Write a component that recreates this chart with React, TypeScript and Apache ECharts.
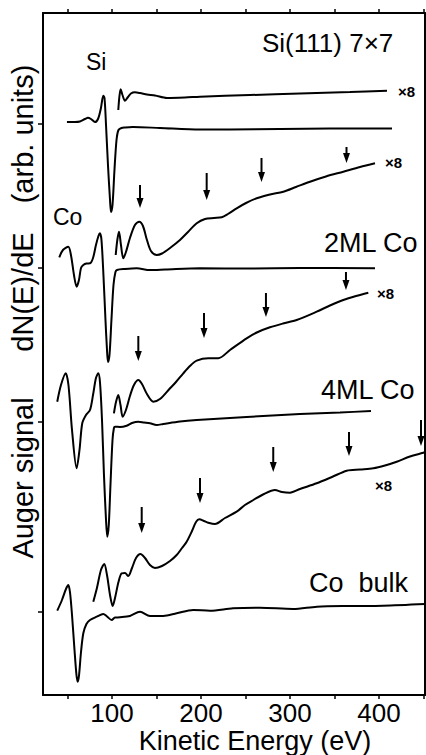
import React, { useEffect, useRef } from "react";
import * as echarts from "echarts";

// ---- axis ticks / labels ----
const X_MIN = 22.5;
const X_MAX = 451.7;
const X_TICKS = [50, 100, 150, 200, 250, 300, 350, 400, 450];
const X_LABELS = [100, 200, 300, 400];
const Y_MIN = 0;
const Y_MAX = 682;

// baseline (zero) of each spectrum, arb. units
const BASE_SI = 571;
const BASE_CO2 = 427;
const BASE_CO4 = 273;
const BASE_BULK = 83;
const Y_TICKS = [BASE_BULK, BASE_CO4, BASE_CO2, BASE_SI];

// ---- spectra: [kinetic energy (eV), dN/dE relative to baseline] ----
const siMain = [[49.4,2],[58.4,2],[64.0,2.5],[69.7,5],[73.0,6.3],[76.4,5],[80.9,2],[84.3,5],[87.6,16],[90.2,28.3],[91.6,26],[93.3,-1],[95.5,-41],[97.8,-76],[98.9,-88],[100.6,-81],[102.8,-46],[105.1,-16],[107.3,-6],[110.7,-4],[114.6,-3.5],[123.6,-3],[153.9,-4],[198.9,-5.5],[232.6,-5.5],[288.8,-5],[344.9,-4.5],[414.6,-4.5]];
const siX8 = [[107.1,14],[108.4,28],[109.8,34.7],[111.8,29],[114.6,23.3],[118.0,27],[121.3,30.5],[125.8,31.7],[131.5,31],[139.3,29.5],[148.3,28.5],[161.8,26],[182.0,26.5],[198.9,27.3],[255.1,29],[311.2,30.5],[367.4,32],[409.0,33.3]];

const co2Main = [[40.8,10.7],[44.9,18],[50.9,21.3],[53.9,13],[57.3,-7],[60.3,-18.7],[62.9,-12],[65.2,0],[67.8,3],[71.3,4.5],[75.3,4.7],[78.7,10],[82.0,23],[84.8,32],[86.5,34.7],[88.2,28],[90.4,-7],[92.7,-52],[94.4,-82],[95.5,-94],[97.2,-87],[99.4,-52],[101.7,-17],[103.9,-4],[105.6,-2],[114.6,-1],[127.8,-0.3],[142.7,-2],[159.6,-1.5],[198.9,-0.3],[255.1,-0.5],[311.2,0],[395.5,-0.3]];
const co2X8 = [[104.2,13],[106.0,28],[107.9,36.3],[110.1,23],[112.7,9.7],[115.7,16],[120.2,30],[125.8,43],[130.7,46.3],[134.8,42],[139.3,28],[143.8,17],[150.2,13],[156.2,14.5],[165.2,20],[176.4,28],[185.4,36],[195.2,44.7],[204.5,49],[214.6,50],[223.3,50.7],[230.3,54],[240.1,59.7],[250.6,65],[262.6,69.7],[277.5,73.5],[292.5,76.3],[306.7,81],[322.5,86.3],[340.4,91.5],[359.9,96.3],[378.7,101],[395.5,104.7]];

const co4Main = [[38.5,20.3],[42.7,37],[48.0,48.7],[51.1,37],[55.1,-8],[60.3,-46.3],[63.5,-28],[66.6,-1.3],[70.8,7],[75.3,12],[78.7,27],[82.0,44],[84.6,48.7],[86.5,40],[88.8,2],[91.0,-53],[93.3,-98],[94.7,-114.7],[96.4,-103],[98.3,-63],[100.6,-18],[102.2,-6],[103.4,-4.7],[109.0,-5],[116.5,-3.7],[122.5,-1],[129.6,0.3],[136.0,-0.5],[142.7,-1.3],[150.2,-3],[157.6,-2],[176.4,0.5],[195.2,2],[232.6,4],[269.7,6],[311.2,8],[356.2,9.5],[391.0,11]];
const co4X8 = [[102.2,8.7],[104.5,20],[107.1,27],[109.6,17],[112.0,5.3],[115.7,12],[120.2,26],[124.7,37],[129.6,42],[133.7,38],[139.3,28],[146.4,20.3],[153.9,23],[165.2,33.7],[171.9,40],[180.1,48.7],[187.6,56],[195.2,61.3],[208.2,63.7],[219.4,63.7],[232.6,72],[251.3,83.7],[264.0,90],[277.5,94.7],[292.1,98.5],[307.5,102],[330.0,110.3],[344.9,116.5],[359.9,122],[374.2,126],[388.0,129.3]];

const bulkMain = [[38.5,1.3],[43.8,12],[48.3,23],[50.9,27],[52.8,20],[55.1,-3],[57.9,-38],[60.1,-63],[61.5,-69.7],[62.9,-64],[65.2,-40],[67.8,-21.3],[71.3,-12],[75.3,-8],[82.8,-4.7],[90.2,-2],[94.4,-4.5],[99.7,-8],[103.4,-5.5],[109.0,-5.3],[120.2,-4],[131.5,0.3],[142.7,-4],[157.6,-4],[172.7,-1.3],[191.3,2],[210.1,1.3],[236.0,3.7],[266.3,4.3],[303.4,3],[330.3,5.3],[367.4,6],[404.5,6.3],[451.7,8]];
const bulkX8 = [[79.0,10.3],[83.1,24],[87.6,42],[91.3,48],[94.4,37],[97.8,17],[100.8,6],[103.4,14],[107.3,30],[110.9,38.7],[114.6,39],[118.3,36],[122.5,44],[127.0,54],[132.0,58],[137.1,54],[142.7,47],[148.3,44],[156.2,46],[165.2,51],[172.7,57],[178.7,64],[183.9,70.3],[189.9,81],[194.4,90],[198.1,92.7],[203.4,91],[208.2,89.3],[215.7,88],[227.0,94],[240.1,100.3],[249.4,107],[258.8,112],[270.8,118],[283.1,122],[291.0,120],[300.0,119.3],[311.2,123],[330.0,128.7],[347.2,135],[363.7,141.3],[378.7,142.5],[393.6,143.7],[406.7,146.5],[419.9,150.3],[434.8,155.5],[449.8,159.3],[451.7,160]];

// ---- arrows: [energy (eV), tail y, tip y] in absolute arb. units ----
const arrows2ML = [[131.5,510,487],[206.4,522,495],[268.0,537,513],[363.5,548,532]];
const arrows4ML = [[129.6,359,334],[203.4,382,357],[273.0,402,378],[362.9,423,405]];
const arrowsBulk = [[133.4,188,162],[198.9,217,192],[281.2,248,223],[366.3,263,239],[447.2,275,249]];

const FONT = '"Liberation Sans", Arial, sans-serif';

function shift(data: number[][], base: number) {
  return data.map(([e, v]) => [e, v + base]);
}

function lineSeries(name: string, data: number[][]) {
  return {
    name,
    type: "line",
    data,
    showSymbol: false,
    smooth: 0.3,
    clip: true,
    lineStyle: { color: "#000", width: 2 },
    xAxisIndex: 0,
    yAxisIndex: 0,
    silent: true,
  };
}

function text(t: string, x: number, y: number, size: number, extra: any = {}) {
  return {
    type: "text",
    x,
    y,
    ...extra,
    style: {
      text: t,
      font: `${extra.weight || "normal"} ${size}px ${FONT}`,
      fill: "#000",
      align: extra.align || "left",
      verticalAlign: "middle",
    },
  };
}

export default function App() {
  const ref = useRef<HTMLDivElement>(null);
  useEffect(() => {
    if (!ref.current) return;
    const chart = echarts.init(ref.current, null, { renderer: "svg" });
    const arrowData = [...arrows2ML, ...arrows4ML, ...arrowsBulk];
    const axisLine = { show: true, onZero: false, lineStyle: { color: "#000", width: 2 } };
    chart.setOption({
      animation: false,
      backgroundColor: "#fff",
      grid: { left: 43, right: 1, top: 13, bottom: 60, containLabel: false },
      xAxis: [
        {
          type: "value",
          position: "bottom",
          min: X_MIN,
          max: X_MAX,
          axisLine,
          axisTick: { show: true, customValues: X_TICKS, length: 4, inside: false, lineStyle: { color: "#000", width: 1.5 } },
          axisLabel: {
            show: true,
            customValues: X_LABELS,
            fontSize: 26,
            fontFamily: FONT,
            color: "#000",
            margin: 5,
          },
          splitLine: { show: false },
        },
        {
          type: "value",
          position: "top",
          min: X_MIN,
          max: X_MAX,
          axisLine,
          axisTick: { show: true, customValues: X_TICKS, length: 4, inside: false, lineStyle: { color: "#000", width: 1.5 } },
          axisLabel: { show: false },
          splitLine: { show: false },
        },
      ],
      yAxis: [
        {
          type: "value",
          position: "left",
          min: Y_MIN,
          max: Y_MAX,
          axisLine,
          axisTick: { show: true, customValues: Y_TICKS, length: 5, inside: false, lineStyle: { color: "#000", width: 1.5 } },
          axisLabel: { show: false },
          splitLine: { show: false },
        },
        {
          type: "value",
          position: "right",
          min: Y_MIN,
          max: Y_MAX,
          axisLine,
          axisTick: { show: false },
          axisLabel: { show: false },
          splitLine: { show: false },
        },
      ],
      series: [
        lineSeries("Si", shift(siMain, BASE_SI)),
        lineSeries("Si x8", shift(siX8, BASE_SI)),
        lineSeries("2ML Co", shift(co2Main, BASE_CO2)),
        lineSeries("2ML Co x8", shift(co2X8, BASE_CO2)),
        lineSeries("4ML Co", shift(co4Main, BASE_CO4)),
        lineSeries("4ML Co x8", shift(co4X8, BASE_CO4)),
        lineSeries("Co bulk", shift(bulkMain, BASE_BULK)),
        lineSeries("Co bulk x8", shift(bulkX8, BASE_BULK)),
        {
          name: "arrows",
          type: "custom",
          data: arrowData,
          silent: true,
          clip: false,
          renderItem: (params: any, api: any) => {
            const e = api.value(0);
            const tail = api.coord([e, api.value(1)]);
            const tip = api.coord([e, api.value(2)]);
            const headLen = 10;
            const hw = 3.5;
            return {
              type: "group",
              children: [
                {
                  type: "line",
                  shape: { x1: tail[0], y1: tail[1], x2: tip[0], y2: tip[1] - headLen + 1 },
                  style: { stroke: "#000", lineWidth: 2 },
                },
                {
                  type: "polygon",
                  shape: {
                    points: [
                      [tip[0] - hw, tip[1] - headLen],
                      [tip[0] + hw, tip[1] - headLen],
                      [tip[0], tip[1]],
                    ],
                  },
                  style: { fill: "#000" },
                },
              ],
            };
          },
        },
      ],
      graphic: [
        text("Si(111) 7×7", 262, 43, 26),
        text("Si", 86, 62, 23),
        text("Co", 53, 217, 23),
        text("2ML Co", 324, 243, 27),
        text("4ML Co", 321, 390, 27),
        text("Co  bulk", 309, 583, 27),
        text("×8", 398, 91, 15, { weight: "bold" }),
        text("×8", 385, 162, 15, { weight: "bold" }),
        text("×8", 377, 293, 15, { weight: "bold" }),
        text("×8", 375, 485, 15, { weight: "bold" }),
        text("Kinetic Energy (eV)", 255, 741, 27, { align: "center" }),
        text("(arb. units)", 23, 134, 29, { align: "center", rotation: Math.PI / 2 }),
        text("dN(E)/dE", 23, 292, 29, { align: "center", rotation: Math.PI / 2 }),
        text("Auger signal", 23, 478, 29, { align: "center", rotation: Math.PI / 2 }),
      ],
    });
    return () => chart.dispose();
  }, []);
  return (
    <div
      ref={ref}
      style={{ position: "fixed", left: 0, top: 0, width: 426, height: 755, background: "#fff" }}
    />
  );
}
